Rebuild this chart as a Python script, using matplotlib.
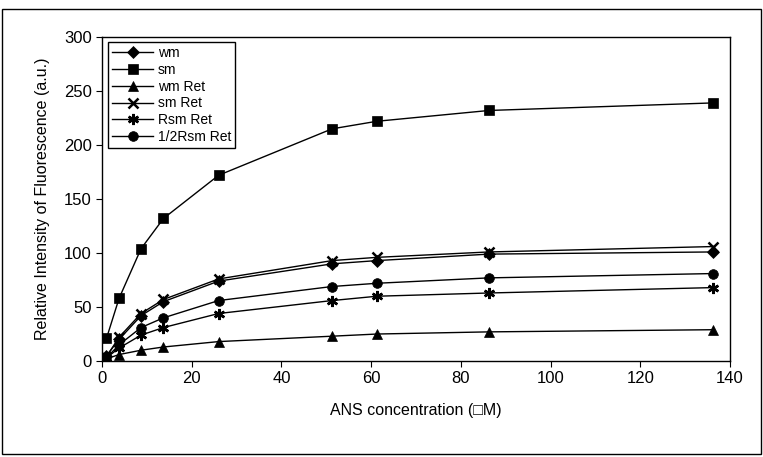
import matplotlib
matplotlib.use("Agg")
import matplotlib.pyplot as plt
from matplotlib.patches import Rectangle

# ------------------------------------------
# DATA
# ------------------------------------------

ans_conc = [1.0, 3.8, 8.7, 13.7, 26.0, 51.3, 61.3, 86.3, 136.3]

wm = [5, 20, 42, 55, 74, 90, 93, 99, 101]
sm = [21, 58, 104, 132, 172, 215, 222, 232, 239]
wm_ret = [2, 6, 10, 13, 18, 23, 25, 27, 29]
sm_ret = [4, 22, 44, 57, 76, 93, 96, 101, 106]
rsm_ret = [3, 12, 24, 31, 44, 56, 60, 63, 68]
half_rsm_ret = [3, 15, 31, 40, 56, 69, 72, 77, 81]

labels = ["wm", "sm", "wm Ret", "sm Ret", "Rsm Ret", "1/2Rsm Ret"]
series = [wm, sm, wm_ret, sm_ret, rsm_ret, half_rsm_ret]
markers = ["D", "s", "^", "x", (6, 2, 0), "o"]
sizes = [6, 7.5, 7.5, 7, 8, 7]

x_ticks = [0, 20, 40, 60, 80, 100, 120, 140]
y_ticks = [0, 50, 100, 150, 200, 250, 300]

# ------------------------------------------
# PLOT
# ------------------------------------------

plt.rcParams["font.family"] = ["Liberation Sans", "DejaVu Sans"]

fig = plt.figure(figsize=(7.63, 4.57), dpi=100)
ax = fig.add_axes([0.1337, 0.210, 0.823, 0.709])

for vals, lab, mk, ms in zip(series, labels, markers, sizes):
    ax.plot(ans_conc, vals, color="black", linewidth=1.0, marker=mk,
            markersize=ms, markeredgewidth=1.8 if mk in ("x", (6, 2, 0)) else 0.5,
            markerfacecolor="black", markeredgecolor="black", label=lab)

ax.set_xlim(0, 140)
ax.set_ylim(0, 300)
ax.set_xticks(x_ticks)
ax.set_yticks(y_ticks)
ax.tick_params(direction="out", length=4, width=0.8, labelsize=12, colors="black")
for s in ax.spines.values():
    s.set_linewidth(1.0)
    s.set_color("black")

ax.set_xlabel("ANS concentration (\u25a1M)", fontsize=11.5, labelpad=12)
ax.set_ylabel("Relative Intensity of Fluorescence (a.u.)", fontsize=11.5, labelpad=10)

leg = ax.legend(loc="upper left", bbox_to_anchor=(0.009, 0.985), fontsize=10,
                frameon=True, fancybox=False, edgecolor="black", framealpha=1,
                handlelength=3.0, labelspacing=0.2, borderpad=0.3,
                handletextpad=0.3, borderaxespad=0.0)
leg.get_frame().set_linewidth(1.0)

# outer chart frame
fig.patches.append(Rectangle((0.002, 0.006), 0.995, 0.974, transform=fig.transFigure,
                             fill=False, edgecolor="black", linewidth=1.0))

fig.savefig("out.png", dpi=100)
plt.close(fig)
